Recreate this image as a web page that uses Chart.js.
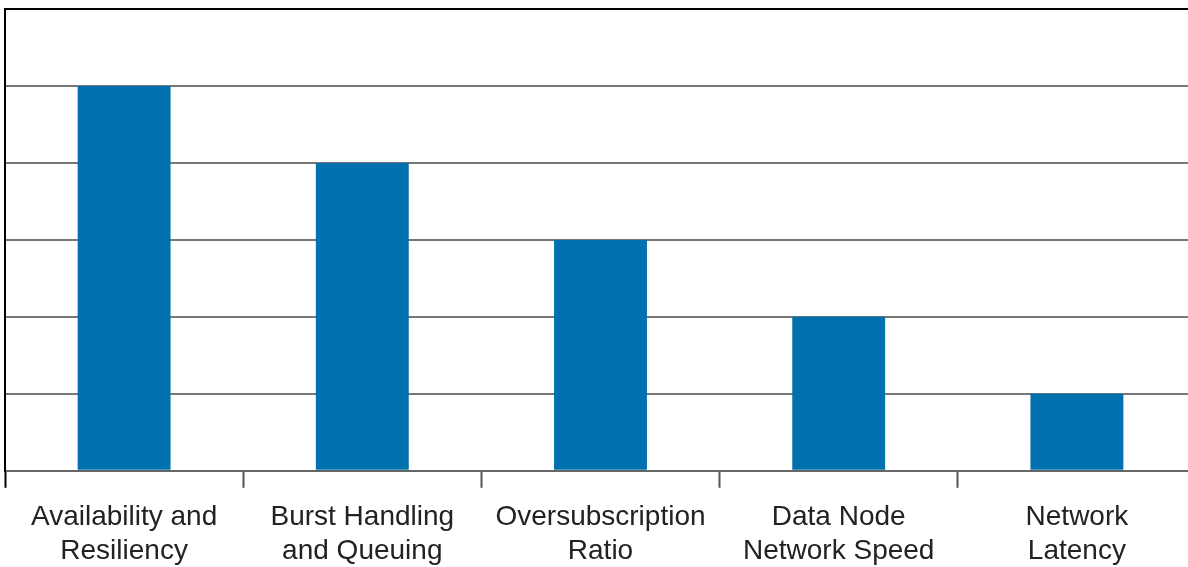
<!DOCTYPE html>
<html>
<head>
<meta charset="utf-8">
<script src="https://cdn.jsdelivr.net/npm/chart.js@4.4.0/dist/chart.umd.min.js"></script>
<style>
  html, body { margin: 0; padding: 0; background: #fff; overflow: hidden; }
  #wrap { width: 1188px; height: 567px; overflow: hidden; }
  canvas { display: block; }
</style>
</head>
<body>
<div id="wrap"><canvas id="c" width="1200" height="587"></canvas></div>
<script>
const categories = [
  ["Availability and", "Resiliency"],
  ["Burst Handling", "and Queuing"],
  ["Oversubscription", "Ratio"],
  ["Data Node", "Network Speed"],
  ["Network", "Latency"]
];
const importance = [5, 4, 3, 2, 1];
const yMin = 0, yMax = 6, yStep = 1;

new Chart(document.getElementById('c'), {
  type: 'bar',
  data: {
    labels: categories,
    datasets: [{
      data: importance,
      backgroundColor: '#0070ae',
      borderWidth: 0,
      categoryPercentage: 1,
      barPercentage: 0.39
    }]
  },
  options: {
    responsive: false,
    animation: false,
    layout: { padding: { left: 5, top: 9, right: 4, bottom: 6 } },
    plugins: { legend: { display: false }, tooltip: { enabled: false } },
    scales: {
      x: {
        offset: true,
        grid: {
          offset: true,
          drawOnChartArea: false,
          drawTicks: true,
          tickLength: 17,
          tickWidth: 2,
          tickColor: (ctx) => ctx.index === 0 ? '#000' : '#555'
        },
        border: { display: true, color: '#666', width: 2 },
        ticks: {
          color: '#222',
          padding: 13,
          maxRotation: 0,
          autoSkip: false,
          font: { family: 'Liberation Sans, Arial, sans-serif', size: 28, lineHeight: 1.2 }
        }
      },
      y: {
        min: yMin, max: yMax,
        ticks: { display: false, stepSize: yStep },
        grid: {
          drawTicks: false,
          lineWidth: 2,
          color: (ctx) => ctx.tick && ctx.tick.value === yMax ? '#000' : (ctx.tick && ctx.tick.value === 0 ? '#666' : '#777')
        },
        border: { display: true, color: '#000', width: 2 }
      }
    }
  }
});
</script>
</body>
</html>
